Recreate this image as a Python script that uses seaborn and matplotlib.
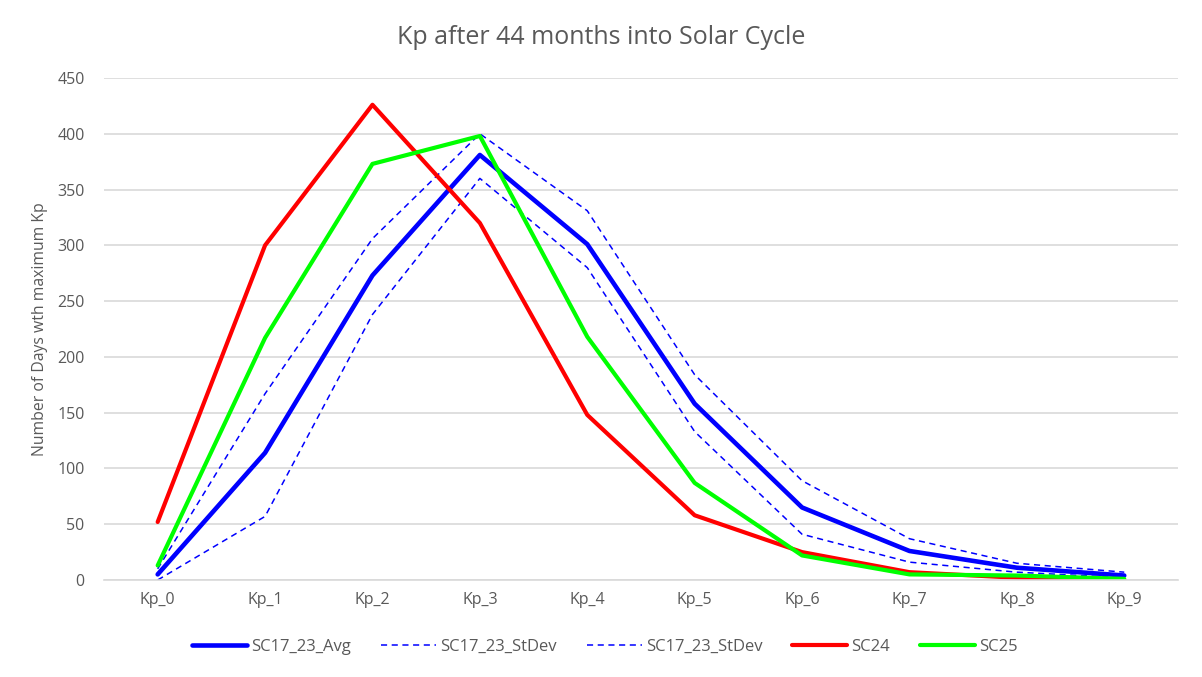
import pandas as pd
import numpy as np
import seaborn as sns
import matplotlib
matplotlib.use("Agg")
import matplotlib.pyplot as plt

# data
kp = ['Kp_0', 'Kp_1', 'Kp_2', 'Kp_3', 'Kp_4', 'Kp_5', 'Kp_6', 'Kp_7', 'Kp_8', 'Kp_9']
sc17_23_avg = [5, 114, 273, 381, 301, 158, 65, 26, 11, 4]
sc17_23_hi = [10, 167, 306, 400, 331, 184, 89, 37, 15, 7]
sc17_23_lo = [0, 57, 238, 360, 280, 133, 41, 16, 7, 2]
sc24 = [52, 300, 426, 320, 148, 58, 25, 7, 2, 0]
sc25 = [13, 217, 373, 398, 218, 87, 22, 5, 4, 1]

df = pd.DataFrame({'kp': kp, 'avg': sc17_23_avg, 'hi': sc17_23_hi,
                   'lo': sc17_23_lo, 'sc24': sc24, 'sc25': sc25})

sns.set_style("white")
plt.rcParams['font.family'] = ['Open Sans', 'DejaVu Sans']
grey = '#595959'

fig = plt.figure(figsize=(12.02, 6.77), dpi=100)
ax = fig.add_axes([0.0865, 0.1433, 0.8935, 0.7415])

x = np.arange(len(kp))
sns.lineplot(x=x, y=df['avg'], ax=ax, color='#0000ff', lw=3.3, label='SC17_23_Avg')
sns.lineplot(x=x, y=df['hi'], ax=ax, color='#0000ff', lw=1.1, ls=(0, (4, 3)), label='SC17_23_StDev')
sns.lineplot(x=x, y=df['lo'], ax=ax, color='#0000ff', lw=1.1, ls=(0, (4, 3)), label='SC17_23_StDev')
sns.lineplot(x=x, y=df['sc24'], ax=ax, color='#ff0000', lw=3.0, label='SC24')
sns.lineplot(x=x, y=df['sc25'], ax=ax, color='#00ff00', lw=3.0, label='SC25')

ax.set_xlim(-0.5, 9.5)
ax.set_ylim(0, 450)
ax.set_yticks(range(0, 451, 50))
ax.set_xticks(x)
ax.set_xticklabels(kp)
ax.grid(axis='y', color='#d9d9d9', lw=1.2)
ax.set_axisbelow(True)
for s in ['top', 'right', 'left']:
    ax.spines[s].set_visible(False)
ax.spines['bottom'].set_color('#d9d9d9')
ax.spines['bottom'].set_linewidth(1.2)
ax.tick_params(axis='both', colors=grey, labelsize=11.5, length=0)
ax.tick_params(axis='y', pad=14)
ax.tick_params(axis='x', pad=9)

ax.set_xlabel('')
ax.set_ylabel('Number of Days wth maximum Kp', color=grey, fontsize=11.3)
ax.yaxis.set_label_coords(-0.0525, 0.5)
fig.text(0.5, 0.944, 'Kp after 44 months into Solar Cycle', color=grey, fontsize=18,
         ha='center', va='center')

ax.get_legend().remove()
h, l = ax.get_legend_handles_labels()
leg = fig.legend(h, l, loc='center', bbox_to_anchor=(0.5033, 0.0445), ncol=5, frameon=False,
                 fontsize=12, handlelength=3.3, handletextpad=0.25, columnspacing=1.8)
for t in leg.get_texts():
    t.set_color(grey)

fig.savefig('out.png', dpi=100)
